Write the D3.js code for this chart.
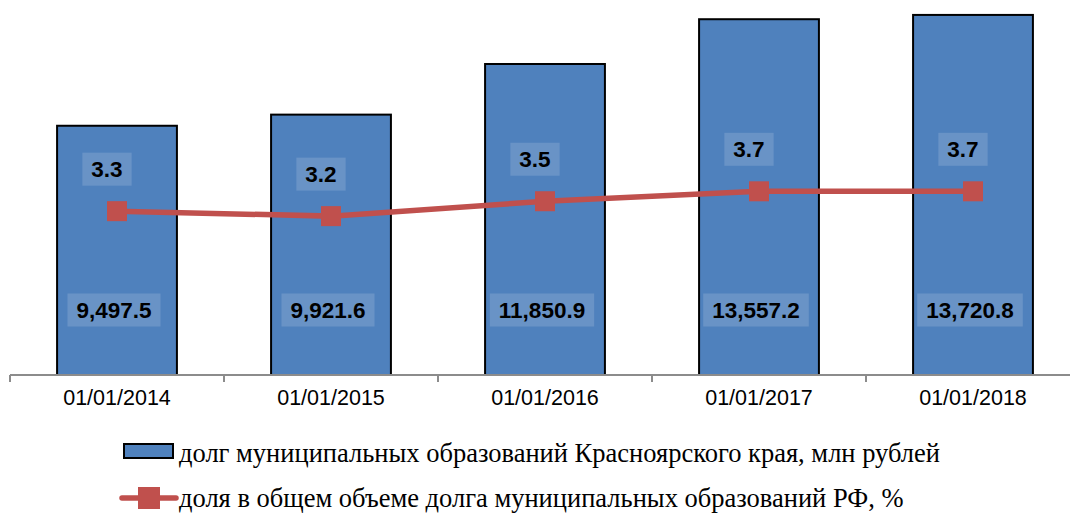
<!DOCTYPE html>
<html>
<head>
<meta charset="utf-8">
<script src="https://cdn.jsdelivr.net/npm/d3@7"></script>
<style>
  body { margin: 0; background: #fff; }
  svg { display: block; }
</style>
</head>
<body>
<div id="chart"></div>
<script>
// dates on the x axis
var categories = ["01/01/2014", "01/01/2015", "01/01/2016", "01/01/2017", "01/01/2018"];
// municipal debt, mln rub
var debtValues = [9497.5, 9921.6, 11850.9, 13557.2, 13720.8];
// share of total RF municipal debt, %
var shareValues = [3.3, 3.2, 3.5, 3.7, 3.7];

var legendLabels = [
    "долг муниципальных образований Красноярского края, млн рублей",
    "доля в общем объеме долга муниципальных образований РФ, %"
];

var W = 1070, H = 515;
var barColor = "#4F81BD", lineColor = "#C0504D";

var svg = d3.select("#chart").append("svg")
    .attr("width", W)
    .attr("height", H);

var baseY = 375, topY = 7.6;

var x = d3.scaleBand()
    .domain(categories)
    .range([10, 1080])
    .paddingInner(0.44)
    .paddingOuter(0.22);

var y = d3.scaleLinear()
    .domain([0, 14000])
    .range([baseY, topY]);

var y2 = d3.scaleLinear()
    .domain([0, 7.4])
    .range([baseY, topY]);

var cx = function (i) { return x(categories[i]) + x.bandwidth() / 2; };

// bars
svg.append("g").selectAll("rect")
    .data(debtValues)
    .enter().append("rect")
    .attr("x", function (d, i) { return x(categories[i]); })
    .attr("y", function (d) { return y(d); })
    .attr("width", x.bandwidth())
    .attr("height", function (d) { return baseY - y(d); })
    .attr("fill", barColor)
    .attr("stroke", "#000")
    .attr("stroke-width", 2);

// x axis
var xAxis = svg.append("g")
    .attr("transform", "translate(0," + baseY + ")");
xAxis.append("line")
    .attr("x1", 10).attr("x2", 1080)
    .attr("stroke", "#8c8c8c").attr("stroke-width", 2);
xAxis.selectAll(".tick")
    .data(d3.range(categories.length + 1))
    .enter().append("line")
    .attr("x1", function (i) { return 10 + i * x.step(); })
    .attr("x2", function (i) { return 10 + i * x.step(); })
    .attr("y1", 0).attr("y2", 7)
    .attr("stroke", "#8c8c8c").attr("stroke-width", 2);
xAxis.selectAll("text")
    .data(categories)
    .enter().append("text")
    .attr("x", function (d, i) { return cx(i); })
    .attr("y", 30)
    .attr("text-anchor", "middle")
    .attr("font-family", "Liberation Sans, Arial, sans-serif")
    .attr("font-size", 21.5)
    .attr("fill", "#000")
    .text(function (d) { return d; });

// line
var line = d3.line()
    .x(function (d, i) { return cx(i); })
    .y(function (d) { return y2(d); });

svg.append("path")
    .datum(shareValues)
    .attr("d", line)
    .attr("fill", "none")
    .attr("stroke", lineColor)
    .attr("stroke-width", 5.5);

svg.append("g").selectAll("rect")
    .data(shareValues)
    .enter().append("rect")
    .attr("x", function (d, i) { return cx(i) - 10; })
    .attr("y", function (d) { return y2(d) - 10; })
    .attr("width", 20)
    .attr("height", 20)
    .attr("fill", lineColor);

// data labels with a light box behind
function addLabel(g, tx, ty, txt) {
    var t = g.append("text")
        .attr("x", tx)
        .attr("y", ty)
        .attr("text-anchor", "middle")
        .attr("dominant-baseline", "central")
        .attr("font-family", "Liberation Sans, Arial, sans-serif")
        .attr("font-weight", "bold")
        .attr("font-size", 22.5)
        .attr("fill", "#000")
        .text(txt);
    var bb = t.node().getBBox();
    g.insert("rect", function () { return t.node(); })
        .attr("x", bb.x - 9)
        .attr("y", ty - 16.5)
        .attr("width", bb.width + 18)
        .attr("height", 33)
        .attr("fill", "#fff")
        .attr("fill-opacity", 0.15);
}

var fmt = d3.format(",.1f");
var labels = svg.append("g");
debtValues.forEach(function (d, i) {
    addLabel(labels, cx(i) - 3, baseY - 65, fmt(d));
});
shareValues.forEach(function (d, i) {
    addLabel(labels, cx(i) - 10, y2(d) - 42, d3.format(".1f")(d));
});

// legend
var legend = svg.append("g");
legend.append("rect")
    .attr("x", 124).attr("y", 444)
    .attr("width", 49).attr("height", 14)
    .attr("fill", barColor)
    .attr("stroke", "#000").attr("stroke-width", 2);
legend.append("line")
    .attr("x1", 122).attr("x2", 176)
    .attr("y1", 498).attr("y2", 498)
    .attr("stroke", lineColor).attr("stroke-width", 5.5)
    .attr("stroke-linecap", "round");
legend.append("rect")
    .attr("x", 138).attr("y", 487)
    .attr("width", 22).attr("height", 22)
    .attr("fill", lineColor);
legend.selectAll("text")
    .data(legendLabels)
    .enter().append("text")
    .attr("x", 179)
    .attr("y", function (d, i) { return 462 + i * 45; })
    .attr("font-family", "Liberation Serif, Times New Roman, serif")
    .attr("font-size", 26.5)
    .attr("fill", "#000")
    .text(function (d) { return d; });
</script>
</body>
</html>
